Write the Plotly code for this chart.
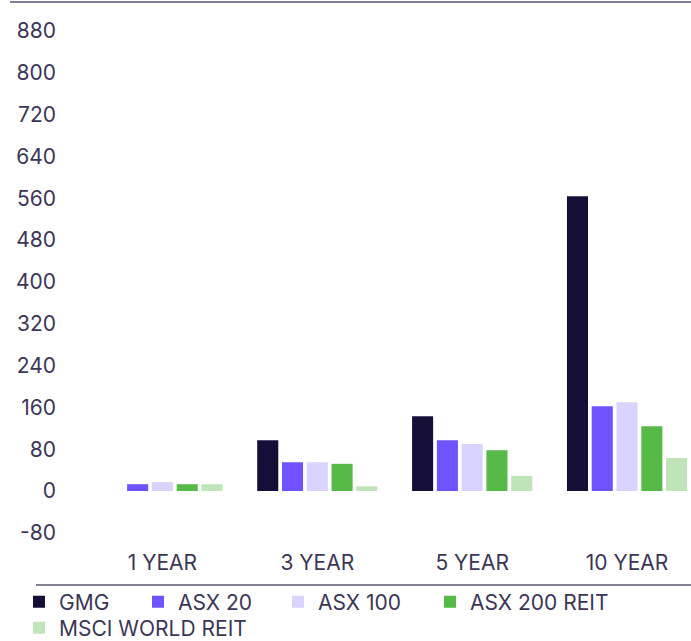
import plotly.graph_objects as go

categories = ["1 YEAR", "3 YEAR", "5 YEAR", "10 YEAR"]
series_names = ["GMG", "ASX 20", "ASX 100", "ASX 200 REIT", "MSCI WORLD REIT"]
gmg = [0, 97, 143, 564]
asx20 = [13, 55, 97, 162]
asx100 = [17, 55, 90, 170]
asx200reit = [13, 52, 78, 124]
msci_world_reit = [13, 9, 29, 63]
y_ticks = [-80, 0, 80, 160, 240, 320, 400, 480, 560, 640, 720, 800, 880]
y_tick_labels = ["-80", "0", "80", "160", "240", "320", "400", "480", "560", "640", "720", "800", "880"]

colors = ["#150f38", "#7052ff", "#d9d3ff", "#57b947", "#bfe4b8"]
values = [gmg, asx20, asx100, asx200reit, msci_world_reit]

FONT = "Inter, Roboto, sans-serif"
TXT = "#3b3656"
FS = 21

W, H = 691, 641
L, R, T, B = 85, 0, 10, 93

# legend placement (pixels): one single-item legend per series
legend_ids = ["legend", "legend2", "legend3", "legend4", "legend5"]
legend_px = [(19, 602), (138, 602), (278, 602), (430, 602), (19, 628)]

fig = go.Figure()
for name, vals, col, lg in zip(series_names, values, colors, legend_ids):
    fig.add_trace(go.Bar(name=name, x=categories, y=vals, marker_color=col,
                         marker_line_width=0, legend=lg))

leg_common = dict(orientation="h", xref="container", yref="container",
                  xanchor="left", yanchor="middle",
                  font=dict(family=FONT, size=FS, color=TXT),
                  itemwidth=30, traceorder="normal", bgcolor="rgba(0,0,0,0)")
legends = {lg: dict(x=px / W, y=(H - py) / H, **leg_common)
           for lg, (px, py) in zip(legend_ids, legend_px)}

fig.update_layout(
    width=W, height=H,
    margin=dict(l=L, r=R, t=T, b=B, pad=0, autoexpand=False),
    paper_bgcolor="white", plot_bgcolor="white",
    barmode="group", bargap=0.2, bargroupgap=0.15,
    font=dict(family=FONT, size=FS, color=TXT),
    showlegend=True,
    xaxis=dict(range=[-0.5, 3.413], showgrid=False, zeroline=False, showline=False,
               ticks="", tickfont=dict(family=FONT, size=FS, color=TXT), fixedrange=True),
    yaxis=dict(range=[-109, 920], tickvals=y_ticks, ticktext=y_tick_labels,
               showgrid=False, zeroline=False,
               showline=False, ticks="", ticklabelstandoff=28,
               tickfont=dict(family=FONT, size=FS, color=TXT), fixedrange=True),
    shapes=[
        dict(type="line", xref="paper", yref="paper",
             x0=(10 - L) / (W - L - R), x1=1, y0=(H - B - 2) / (H - T - B), y1=(H - B - 2) / (H - T - B),
             line=dict(color="#5a5572", width=1.5)),
        dict(type="line", xref="paper", yref="paper",
             x0=(36 - L) / (W - L - R), x1=1, y0=(H - B - 585) / (H - T - B), y1=(H - B - 585) / (H - T - B),
             line=dict(color="#5a5572", width=1.5)),
    ],
)
fig.update_layout(**legends)

fig.write_html("out.html")
